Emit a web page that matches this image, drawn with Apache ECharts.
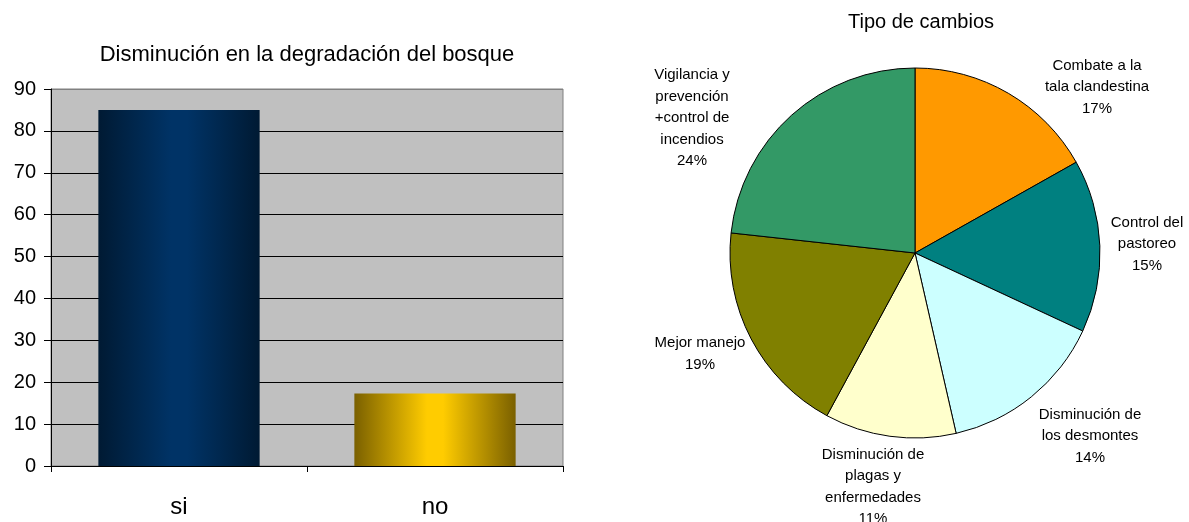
<!DOCTYPE html>
<html>
<head>
<meta charset="utf-8">
<script src="https://cdn.jsdelivr.net/npm/echarts@6/dist/echarts.min.js"></script>
<style>html,body{margin:0;padding:0;background:#fff}#c{width:1189px;height:522px}</style>
</head>
<body>
<div id="c"></div>
<script>
// ---- data ----
var barTitle = 'Disminución en la degradación del bosque';
var barCategories = ['si', 'no'];
var barValues = [85, 17.3];
var yTicks = [0, 90, 10]; // min, max, interval

var pieTitle = 'Tipo de cambios';
var pieCategories = [
  'Combate a la\ntala clandestina',
  'Control del\npastoreo',
  'Disminución de\nlos desmontes',
  'Disminución de\nplagas y\nenfermedades',
  'Mejor manejo',
  'Vigilancia y\nprevención\n+control de\nincendios'
];
// slice sizes
var pieValues = [16.84, 15.09, 14.5, 11.47, 18.83, 23.27];
// percentages as printed on the picture
var piePercentLabels = ['17%', '15%', '14%', '11%', '19%', '24%'];

// ---- styles ----
var FONT = '"Liberation Sans", Arial, sans-serif';
var pieColors = ['#FF9900', '#008080', '#CCFFFF', '#FFFFCC', '#808000', '#339966'];
var barGradients = [
  ['#001a33', '#003366', '#001a33'],
  ['#7a6000', '#ffcc00', '#7a6000']
];
var labelPos = [[1097, 87], [1147, 244], [1090, 436], [873, 487], [700, 354], [692, 118]];

function grad(c) {
  return new echarts.graphic.LinearGradient(0, 0, 1, 0, [
    {offset: 0, color: c[0]}, {offset: 0.45, color: c[1]}, {offset: 0.55, color: c[1]}, {offset: 1, color: c[2]}
  ]);
}

var chart = echarts.init(document.getElementById('c'), null, {renderer: 'canvas'});
var splitColors = [];
for (var i = 0; i < 10; i++) splitColors.push(i === 9 ? '#808080' : '#000000');

chart.setOption({
  animation: false,
  backgroundColor: '#ffffff',
  textStyle: {fontFamily: FONT},
  title: [
    {text: barTitle, left: 302, top: 39, textAlign: 'center',
     textStyle: {fontFamily: FONT, fontSize: 22, fontWeight: 'normal', color: '#000'}},
    {text: pieTitle, left: 916, top: 7, textAlign: 'center',
     textStyle: {fontFamily: FONT, fontSize: 20, fontWeight: 'normal', color: '#000'}}
  ],
  grid: {left: 51, right: 626, top: 89, bottom: 56, show: true,
         backgroundColor: '#C0C0C0', borderColor: '#808080', borderWidth: 1, containLabel: false},
  xAxis: {
    type: 'category', data: barCategories,
    axisLine: {show: true, lineStyle: {color: '#000', width: 1}},
    axisTick: {show: true, length: 6, lineStyle: {color: '#000'}},
    axisLabel: {fontSize: 24, color: '#000', margin: 29, fontFamily: FONT},
    splitLine: {show: false}
  },
  yAxis: {
    type: 'value', min: yTicks[0], max: yTicks[1], interval: yTicks[2],
    axisLine: {show: true, lineStyle: {color: '#000', width: 1}},
    axisTick: {show: true, length: 7, lineStyle: {color: '#000'}},
    axisLabel: {fontSize: 20, color: '#000', margin: 15, fontFamily: FONT},
    splitLine: {show: true, lineStyle: {color: splitColors, width: 1}}
  },
  series: [
    {
      type: 'bar', barCategoryGap: '37%',
      data: barValues.map(function (v, i) { return {value: v, itemStyle: {color: grad(barGradients[i])}}; })
    },
    {
      type: 'pie', center: [915, 253], radius: 185, startAngle: 90, clockwise: true,
      avoidLabelOverlap: false,
      itemStyle: {borderColor: '#000', borderWidth: 1},
      emphasis: {disabled: true},
      label: {
        show: true, position: 'outside', color: '#000', fontSize: 15, lineHeight: 21.5,
        fontFamily: FONT, align: 'center',
        formatter: function (p) { return p.name + '\n' + piePercentLabels[p.dataIndex]; }
      },
      labelLine: {show: false},
      labelLayout: function (p) {
        var q = labelPos[p.dataIndex];
        return {x: q[0], y: q[1], align: 'center', verticalAlign: 'middle'};
      },
      data: pieValues.map(function (v, i) {
        return {value: v, name: pieCategories[i], itemStyle: {color: pieColors[i]}};
      })
    }
  ]
});
</script>
</body>
</html>
